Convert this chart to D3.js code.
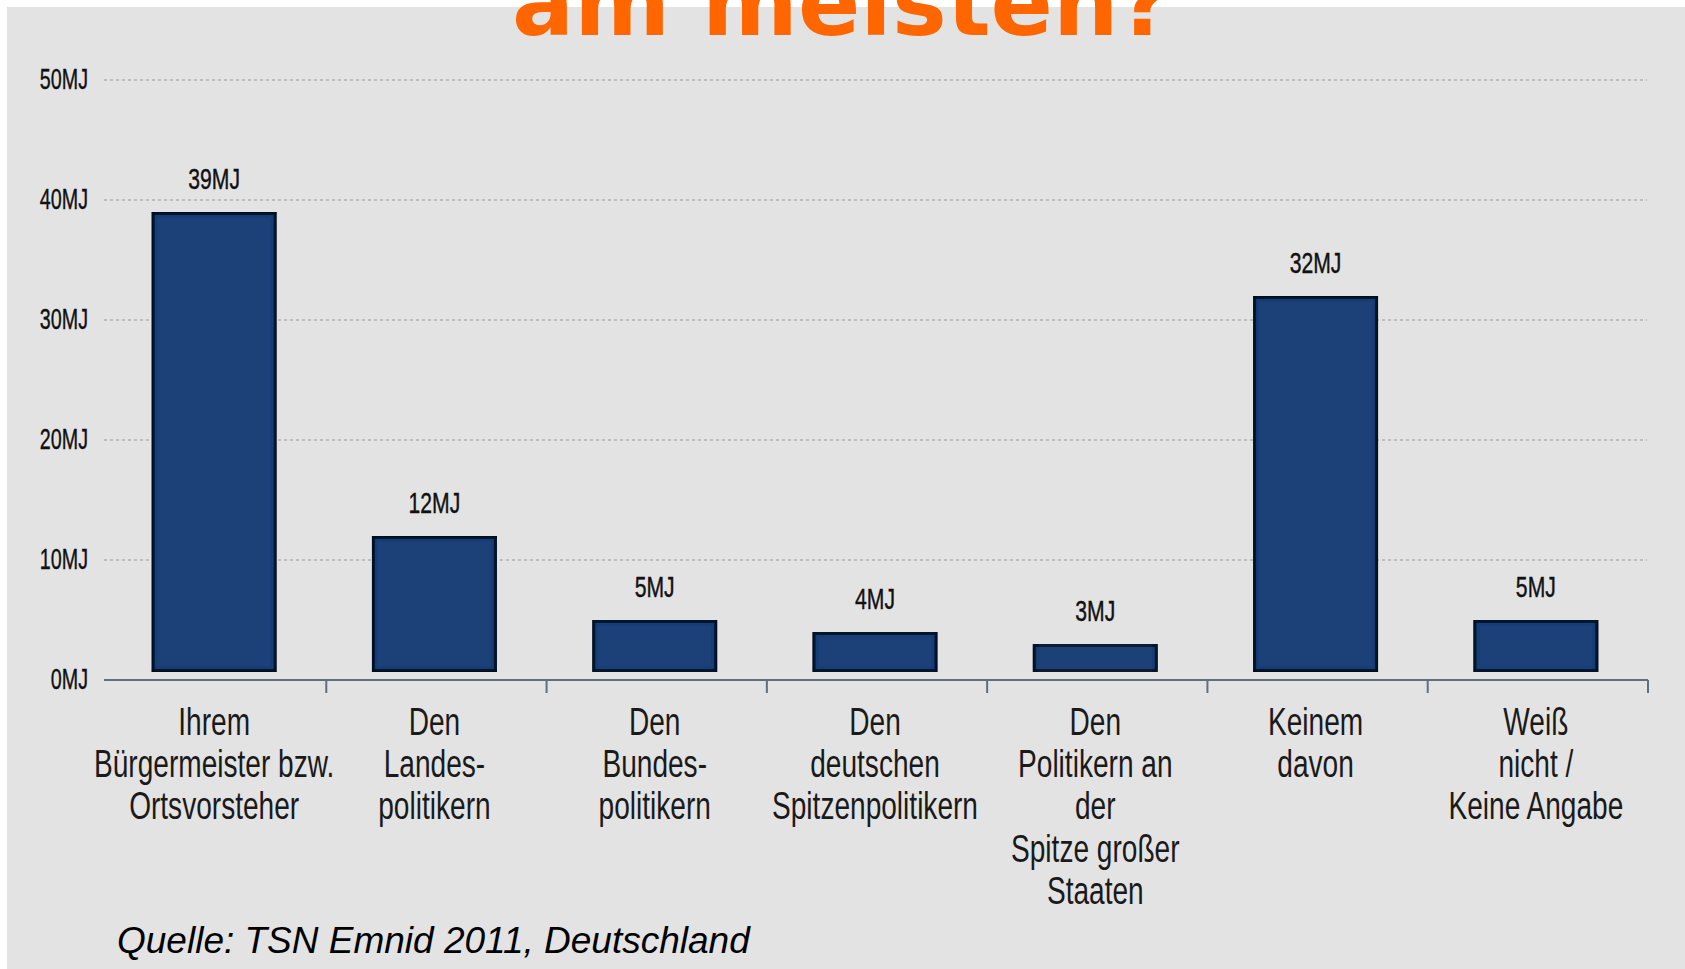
<!DOCTYPE html>
<html>
<head>
<meta charset="utf-8">
<script src="https://cdn.jsdelivr.net/npm/d3@7"></script>
<style>
  html, body { margin: 0; padding: 0; background: #ffffff; }
  svg { display: block; }
</style>
</head>
<body>
<svg id="chart" width="1685" height="969"></svg>
<script>
// ---- data ----
const categories = [
  ["Ihrem", "Bürgermeister bzw.", "Ortsvorsteher"],
  ["Den", "Landes-", "politikern"],
  ["Den", "Bundes-", "politikern"],
  ["Den", "deutschen", "Spitzenpolitikern"],
  ["Den", "Politikern an", "der", "Spitze großer", "Staaten"],
  ["Keinem", "davon"],
  ["Weiß", "nicht /", "Keine Angabe"]
];
const values = [39, 12, 5, 4, 3, 32, 5];
const yTicks = [0, 10, 20, 30, 40, 50];
const unit = "MJ";
const titleText = "am meisten?";
const sourceText = "Quelle: TSN Emnid 2011, Deutschland";

// ---- layout ----
const W = 1685, H = 969;
const svg = d3.select("#chart");

const defs = svg.append("defs");
const f = defs.append("filter").attr("id", "innerShadow")
  .attr("x", "-5%").attr("y", "-5%").attr("width", "110%").attr("height", "110%");
f.append("feFlood").attr("flood-color", "#000000").attr("result", "flood");
f.append("feComposite").attr("in", "flood").attr("in2", "SourceAlpha").attr("operator", "out").attr("result", "inv");
f.append("feGaussianBlur").attr("in", "inv").attr("stdDeviation", 2.5).attr("result", "blur");
f.append("feComposite").attr("in", "blur").attr("in2", "SourceAlpha").attr("operator", "in").attr("result", "shadow");
const m = f.append("feMerge");
m.append("feMergeNode").attr("in", "SourceGraphic");
m.append("feMergeNode").attr("in", "shadow");

svg.append("rect").attr("x", 7).attr("y", 7).attr("width", W - 7).attr("height", H - 7)
  .attr("fill", "#e3e3e3");

const keys = categories.map((c, i) => i);
const x = d3.scaleBand().domain(keys).range([104, 1646])
  .paddingInner(0.4326).paddingOuter(0.2163);
const y = d3.scaleLinear().domain([0, 50]).range([680, 80]);
const step = x.step(), bw = x.bandwidth();

const condensed = 0.68;
const narrowFont = "'Liberation Sans', Arial, sans-serif";

// gridlines
svg.append("g").selectAll("line").data(yTicks.filter(t => t > 0)).join("line")
  .attr("x1", 104).attr("x2", 1647)
  .attr("y1", d => y(d)).attr("y2", d => y(d))
  .attr("stroke", "#b3b3b3").attr("stroke-width", 1.6)
  .attr("stroke-dasharray", "3,3");

// y labels
svg.append("g").selectAll("text").data(yTicks).join("text")
  .attr("transform", d => `translate(88,${y(d) + 9}) scale(${condensed},1)`)
  .attr("text-anchor", "end")
  .attr("font-family", narrowFont).attr("font-size", 29)
  .attr("fill", "#111111").attr("stroke", "#111111").attr("stroke-width", 0.4)
  .text(d => d + unit);

// bars
const barBottom = y(0) - 8;
svg.append("g").selectAll("rect").data(values).join("rect")
  .attr("x", (d, i) => x(i) + 1.5)
  .attr("width", bw - 3)
  .attr("y", d => y(d) + 1.5)
  .attr("height", d => barBottom - 1.5 - (y(d) + 1.5))
  .attr("fill", "#1b3f78")
  .attr("filter", "url(#innerShadow)")
  .attr("stroke", "#0c1b33").attr("stroke-width", 3);

// value labels
svg.append("g").selectAll("text").data(values).join("text")
  .attr("transform", (d, i) => `translate(${x(i) + bw / 2},${y(d) - 23}) scale(0.73,1)`)
  .attr("text-anchor", "middle")
  .attr("font-family", narrowFont).attr("font-size", 29)
  .attr("fill", "#111111").attr("stroke", "#111111").attr("stroke-width", 0.4)
  .text(d => d + unit);

// x axis line and ticks (ticks between bands)
const [r0, r1] = x.range();
svg.append("line").attr("x1", r0).attr("x2", r1 + 2)
  .attr("y1", y(0)).attr("y2", y(0))
  .attr("stroke", "#5f6f80").attr("stroke-width", 2.2);
svg.append("g").selectAll("line").data(keys).join("line")
  .attr("x1", i => x(i) + bw + (step - bw) / 2 + 2)
  .attr("x2", i => x(i) + bw + (step - bw) / 2 + 2)
  .attr("y1", y(0)).attr("y2", y(0) + 13)
  .attr("stroke", "#5f6f80").attr("stroke-width", 2);

// category labels
const catG = svg.append("g");
categories.forEach((lines, i) => {
  lines.forEach((ln, j) => {
    catG.append("text")
      .attr("transform", `translate(${x(i) + bw / 2},${735 + j * 42.2}) scale(0.72,1)`)
      .attr("text-anchor", "middle")
      .attr("font-family", narrowFont).attr("font-size", 39)
      .attr("fill", "#1a1a1a")
      .text(ln);
  });
});

// title (cut off at top, as in the reference)
svg.append("text")
  .attr("x", 842).attr("y", 35)
  .attr("text-anchor", "middle")
  .attr("font-family", "'DejaVu Sans', Verdana, sans-serif")
  .attr("font-weight", "bold").attr("font-size", 92)
  .attr("fill", "#ff6600")
  .text(titleText);

// source
svg.append("text")
  .attr("x", 117).attr("y", 953)
  .attr("font-family", "'Liberation Sans', Arial, sans-serif")
  .attr("font-style", "italic").attr("font-size", 37)
  .attr("fill", "#000000")
  .text(sourceText);
</script>
</body>
</html>
